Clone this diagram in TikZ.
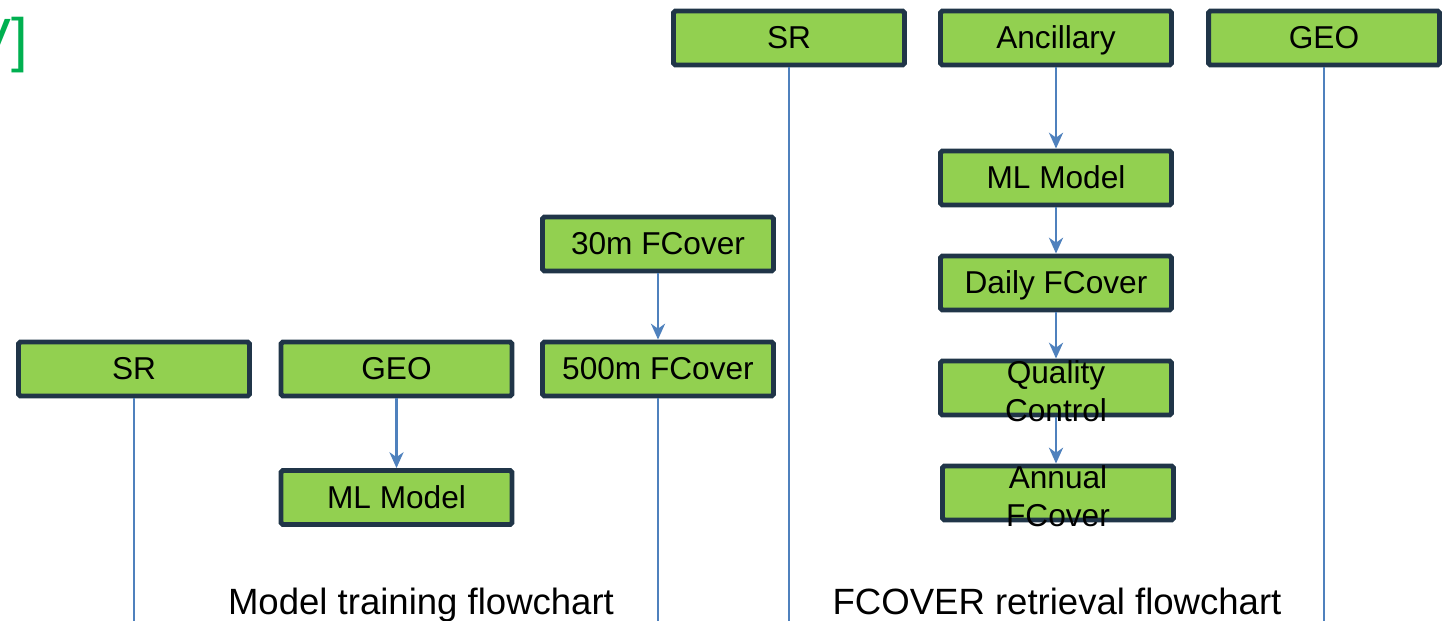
\documentclass[tikz,border=0pt]{standalone}
\usepackage{fontspec}
\setmainfont{Liberation Sans}
\usepgflibrary{arrows.meta}

\definecolor{boxgreen}{HTML}{92D050}
\definecolor{boxedge}{HTML}{203548}
\definecolor{flowblue}{HTML}{4F81BD}
\definecolor{titlegreen}{HTML}{00B050}

\begin{document}
\begin{tikzpicture}[
  x=0.02cm, y=-0.02cm,
  box/.style={draw=boxedge, fill=boxgreen, line width=2.8pt, rounded corners=1pt,
    minimum width=4.62cm, minimum height=1.08cm, inner sep=0pt,
    text height=12.4pt, text depth=0pt,
    font=\fontsize{18}{21.6}\selectfont},
  boxtext/.style={align=center, inner sep=0pt, font=\fontsize{18}{21.6}\selectfont},
  flow/.style={draw=flowblue, line width=1.5pt},
  flowarrow/.style={flow, -{Stealth[length=9pt,width=8pt,inset=2.8pt]}},
  caption/.style={font=\fontsize{20.8}{25}\selectfont, anchor=base}
]

\useasboundingbox (0,0) rectangle (1453,620);
\clip (0,0) rectangle (1453,620);

% Rest des Titels
\node[anchor=east, text=titlegreen, inner sep=0pt,
  font=\fontsize{34}{40}\selectfont] (titlerest) at (28,45) {V]};

% Training
\node[box] (trainSR)  at (134,369)   {SR};
\node[box] (trainGEO) at (396.5,369) {GEO};
\node[box] (trainML)  at (396.5,497.5) {ML Model};
\node[box] (train30)  at (658,244)   {30m FCover};
\node[box] (train500) at (658,369)   {500m FCover};

% Retrieval
\node[box] (retSR)    at (789,38)   {SR};
\node[box] (retAnc)   at (1056,38)  {Ancillary};
\node[box] (retGEO)   at (1324,38)  {GEO};
\node[box] (retML)    at (1056,178) {ML Model};
\node[box] (retDaily) at (1056,283) {Daily FCover};
\node[box] (retQC)    at (1056,388) {};
\node[boxtext] (retQCtext) at (1056,391) {Quality\\Control};
\node[box] (retAnnual) at (1058,493) {};
\node[boxtext] (retAnnualtext) at (1058,496) {Annual\\FCover};

% Linien bis zum Rand
\coordinate (trainSRend)  at (134,625);
\coordinate (train500end) at (658,625);
\coordinate (retSRend)    at (789,625);
\coordinate (retGEOend)   at (1324,625);

\draw[flow] (trainSR.south) -- (trainSRend);
\draw[flow] (train500.south) -- (train500end);
\draw[flow] (retSR.south) -- (retSRend);
\draw[flow] (retGEO.south) -- (retGEOend);

% Pfeile
\draw[flowarrow] (trainGEO.south) -- (trainML.north);
\draw[flowarrow] (train30.south) -- (train500.north);
\draw[flowarrow] (retAnc.south) -- (retML.north);
\draw[flowarrow] (retML.south) -- (retDaily.north);
\draw[flowarrow] (retDaily.south) -- (retQC.north);
\draw[flowarrow] (retQC.south) -- (retAnnual.north -| retQC.south);

% Beschriftung
\node[caption] (traincap) at (421,614) {Model training flowchart};
\node[caption] (retcap)   at (1057,614) {FCOVER retrieval flowchart};

\end{tikzpicture}
\end{document}
